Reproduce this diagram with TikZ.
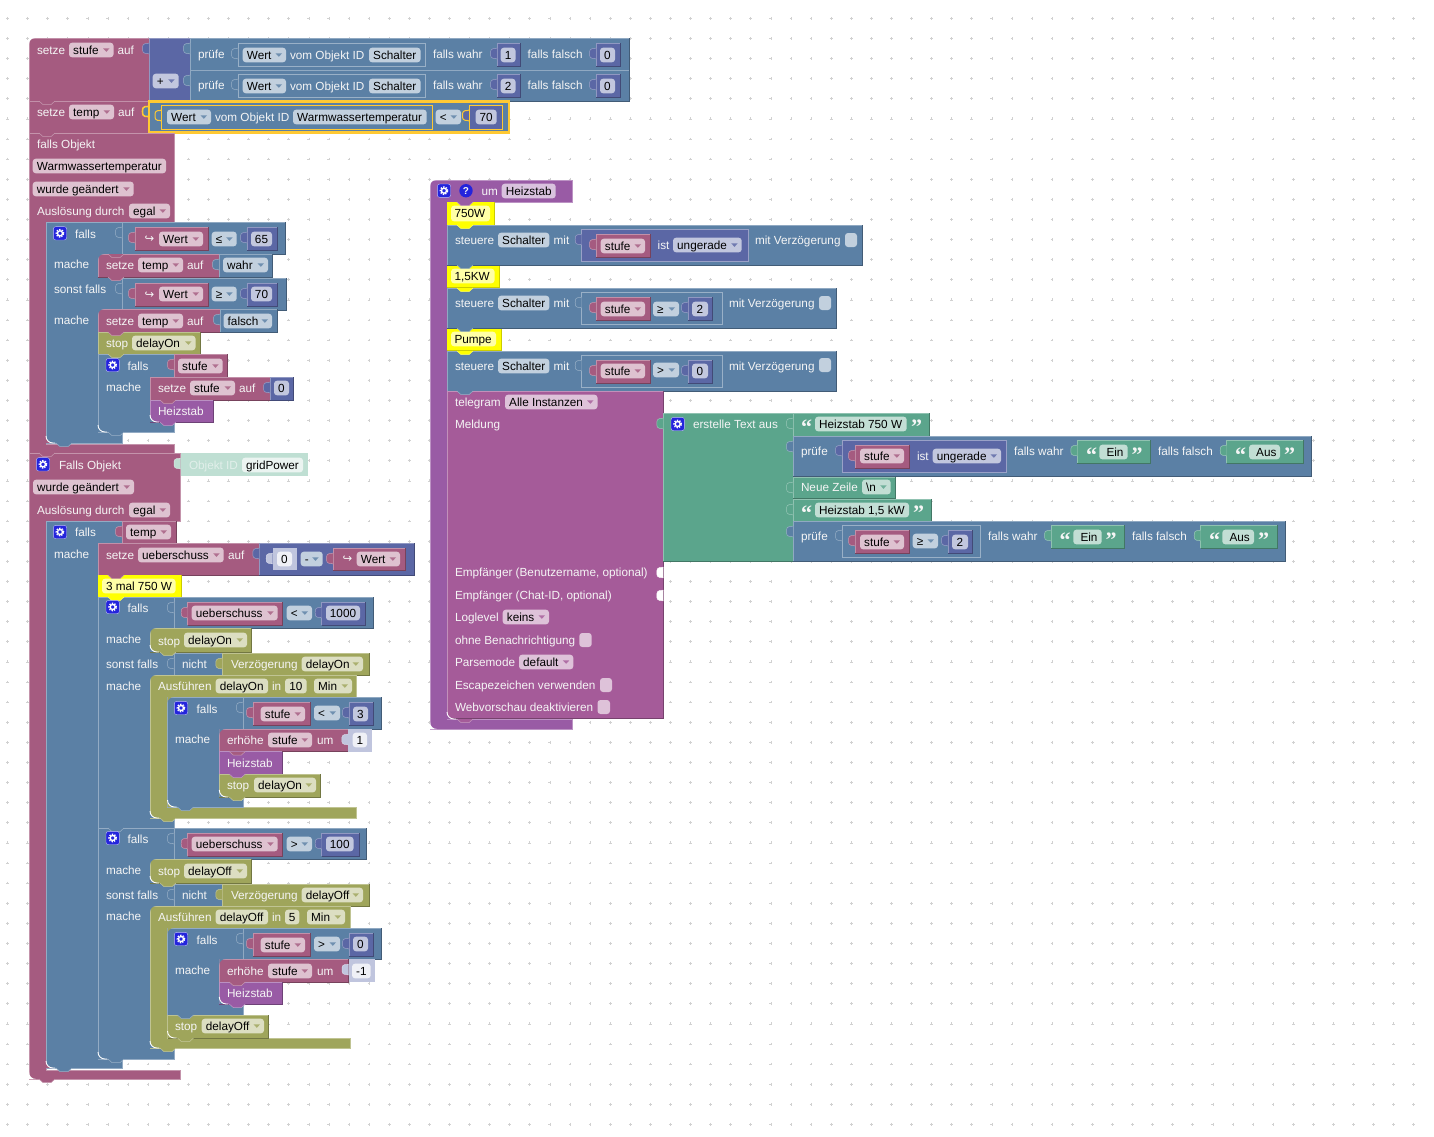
\documentclass[tikz,border=0pt]{standalone}
\usepackage{fontspec}
\setmainfont{Liberation Sans}
\newfontfamily\djv{DejaVu Sans}
\newfontfamily\qfont{Liberation Serif}
\definecolor{vr}{HTML}{A55B80}
\definecolor{lg}{HTML}{5B80A5}
\definecolor{mt}{HTML}{5B67A5}
\definecolor{tx}{HTML}{5BA58C}
\definecolor{fn}{HTML}{995BA5}
\definecolor{tg}{HTML}{A55B99}
\definecolor{ol}{HTML}{9FA55B}
\definecolor{note}{HTML}{FFFF00}
\definecolor{sel}{HTML}{FFC933}
\definecolor{gear}{HTML}{2424DC}
\definecolor{mtS}{HTML}{C0C5DE}
\definecolor{txS}{HTML}{BFDFD3}
\colorlet{vrL}{vr!37!white}
\colorlet{lgL}{lg!37!white}
\colorlet{mtL}{mt!37!white}
\colorlet{txL}{tx!37!white}
\colorlet{fnL}{fn!37!white}
\colorlet{tgL}{tg!37!white}
\colorlet{olL}{ol!37!white}
\colorlet{noteL}{note!35!white}
\newcounter{tn}
% text node with a running name
\newcommand\Tx[3]{\stepcounter{tn}\node[#1] (t\arabic{tn}) at (#2) {#3};}
% plain block: light top and left edge, dark bottom and right edge
\newcommand\Bk[5]{\fill[#1] (#2,#3) rectangle (#4,#5);
  \draw[#1!68!white,line width=.6pt] (#2,#5)--(#2,#3)--(#4,#3);
  \draw[#1!72!black,line width=.6pt] (#2,#5)--(#4,#5)--(#4,#3);}
% inset block of the parent's colour, lighter edge all round
\newcommand\Bi[5]{\fill[#1] (#2,#3) rectangle (#4,#5);
  \draw[#1!62!white,line width=.7pt] (#2,#3) rectangle (#4,#5);}
% puzzle tab on a block's left side
\newcommand\TabPath{(0,5) .. controls (-2,7) and (-6.5,3) .. (-6.5,10.5) .. controls (-6.5,18) and (-2,14) .. (0,16)}
\newcommand\Tb[3]{\begin{scope}[shift={(#2,#3)}]
  \fill[#1] \TabPath -- cycle;
  \draw[#1!62!white,line width=.5pt] \TabPath;
  \end{scope}}
% tab of a selected block: highlighted edge
\newcommand\Ts[3]{\begin{scope}[shift={(#2,#3)}]
  \fill[#1] \TabPath -- cycle;
  \draw[sel,line width=#1pt] \TabPath;
  \end{scope}}
\newcommand\TS[4]{\begin{scope}[shift={(#3,#4)}]
  \fill[#1] \TabPath -- cycle;
  \draw[sel,line width=#2pt] \TabPath;
  \end{scope}}
% block with a tab
\newcommand\Bt[5]{\Bk{#1}{#2}{#3}{#4}{#5}\Tb{#1}{#2}{#3}}
% block outline built from a point list: C shapes
\newcommand\Sh[2]{\fill[#1] #2 -- cycle; \draw[#1!66!white,line width=.6pt] #2 -- cycle;}
% statement bump below an edge
\newcommand\Nt[3]{\fill[#1] (#2+10,#3)--(#2+14,#3+3.6)--(#2+22,#3+3.6)--(#2+26,#3)--cycle;
  \draw[#1!62!white,line width=.5pt] (#2+10,#3)--(#2+14,#3+3.6)--(#2+22,#3+3.6)--(#2+26,#3);}
% corner cut-outs, painted in the colour behind
\newcommand\CTL[3]{\fill[#1] (#2,#3)--(#2+6,#3) .. controls (#2+2.7,#3) and (#2,#3+2.7) .. (#2,#3+6)--cycle;}
\newcommand\CBL[3]{\fill[#1] (#2,#3)--(#2+7,#3) .. controls (#2+3,#3) and (#2,#3-3) .. (#2,#3-7)--cycle;
  \draw[white,line width=.9pt] (#2+9,#3) -- (#2+7,#3) .. controls (#2+3,#3) and (#2,#3-3) .. (#2,#3-7);}
\newcommand\CBO[2]{\fill[white] (#1,#2)--(#1+7,#2) .. controls (#1+3,#2) and (#1,#2-3) .. (#1,#2-7)--cycle;}
% white label, field, field with menu arrow, centred field
\newcommand\Lb[3]{\Tx{lb}{#1,#2+4}{#3}}
\newcommand\Fd[5]{\fill[#1L,rounded corners=3pt] (#2,#4-7.3) rectangle (#3,#4+7.3);
  \Tx{fd}{#2+4.2,#4+4}{#5}}
\newcommand\Dd[5]{\Fd{#1}{#2}{#3}{#4}{#5}
  \fill[#1!80!#1L] (#3-10.5,#4-1.6)--(#3-4,#4-1.6)--(#3-7.2,#4+1.8)--cycle;}
\newcommand\Fc[5]{\fill[#1,rounded corners=3pt] (#2,#4-7.3) rectangle (#3,#4+7.3);
  \Tx{fd,anchor=base}{{(#2+#3)/2},#4+4}{#5}}
% small check box
\newcommand\Cb[4]{\fill[#1L,rounded corners=3pt] (#2,#4-7) rectangle (#3,#4+7);}
% gear button, help button, return arrow, quotes
\newcommand\Gr[2]{\fill[gear,rounded corners=2.5pt] (#1-6.7,#2-6.7) rectangle (#1+6.7,#2+6.7);
  \draw[white!70!gear,line width=.4pt,rounded corners=2.5pt] (#1-6.7,#2-6.7) rectangle (#1+6.7,#2+6.7);
  \draw[white,line width=1.3pt] (#1,#2) circle (2.5pt);
  \draw[white,line width=1.6pt,dash pattern=on 1.3pt off 1.25pt] (#1,#2) circle (3.6pt);}
\newcommand\Hp[2]{\fill[gear] (#1,#2) circle (6.7pt);
  \Tx{lb,anchor=base,font=\fontsize{10}{12}\selectfont\bfseries}{#1,#2+3.6}{?}}
\newcommand\Ri[2]{\Tx{lb,font=\djv\fontsize{11.5}{12}\selectfont}{#1-.5,#2+4}{↪}}
\newcommand\QO[2]{\Tx{lb,font=\qfont\bfseries\fontsize{22}{22}\selectfont}{#1,#2+10}{“}}
\newcommand\QC[2]{\Tx{lb,font=\qfont\bfseries\fontsize{22}{22}\selectfont}{#1,#2+10}{”}}
\tikzset{
  every node/.style={inner sep=0pt,outer sep=0pt,font=\fontsize{11.75}{14}\selectfont},
  lb/.style={anchor=base west,text=white!96!black},
  fd/.style={anchor=base west,text=black},
}
\begin{document}
\begin{tikzpicture}[x=1pt,y=-1pt]
\useasboundingbox (0,0) rectangle (1434,1136);
\fill[white] (0,0) rectangle (1434,1136);
% workspace dots
\foreach \i in {0,...,70}{\foreach \j in {0,...,55}{
  \pgfmathsetmacro\gx{7.4+20.09*\i}\pgfmathsetmacro\gy{18.3+20.11*\j}
  \draw[black!18,line width=.5pt] (\gx-1.4,\gy)--(\gx+1.4,\gy) (\gx,\gy-1.4)--(\gx,\gy+1.4);}}

% ---- set stufe ----
\Bk{vr}{29}{38}{149}{101}
\Lb{37}{50}{setze}\Dd{vr}{69}{113.5}{50}{stufe}\Lb{117.5}{50}{auf}
\Bt{mt}{149}{38}{190}{101}
\Dd{mt}{152.7}{178.7}{81}{+}
\Bt{lg}{190}{38}{629}{70}\Bt{lg}{190}{70}{629}{101}
\foreach \rr/\nn in {0/1,31/2}{
  \Lb{198}{54+\rr}{prüfe}
  \Bi{lg}{238}{43+\rr}{425}{66.5+\rr}\Tb{lg}{238}{43+\rr}
  \Dd{lg}{242.7}{286}{55+\rr}{Wert}\Lb{290}{55+\rr}{vom Objekt ID}\Fd{lg}{369}{420.5}{55+\rr}{Schalter}
  \Lb{433}{54+\rr}{falls wahr}
  \Bt{mt}{497}{43+\rr}{520}{66.5+\rr}\Fc{mtL}{500.7}{515.5}{55+\rr}{\nn}
  \Lb{527.7}{54+\rr}{falls falsch}
  \Bt{mt}{596}{43+\rr}{620}{66.5+\rr}\Fc{mtL}{600}{615}{55+\rr}{0}}
% ---- set temp ----
\Bk{vr}{29}{101}{149}{133}
\Lb{37}{112}{setze}\Dd{vr}{69}{114}{112}{temp}\Lb{118}{112}{auf}
\Bk{lg}{149}{102}{509}{132}\TS{lg}{1.6}{149}{101}
\Bk{lg}{161.5}{105}{432.5}{129}\TS{lg}{1}{161.5}{105}
\Dd{lg}{167}{211}{117}{Wert}\Lb{215}{117}{vom Objekt ID}\Fd{lg}{293}{426.7}{117}{Warmwassertemperatur}
\Dd{lg}{435.7}{461}{117}{<}
\Bk{mt}{469}{105}{502}{129}\TS{mt}{1}{469}{105}\Fc{mtL}{475.7}{496.7}{117}{70}
\draw[sel,line width=1pt] (161.5,105) rectangle (432.5,129) (469,105) rectangle (502,129);
\draw[sel,line width=2.2pt] (149,101.5) rectangle (509,132.5);
\Nt{vr}{29}{101}

% ---- first event ----
\Sh{vr}{(29,133)--(174,133)--(174,222)--(46,222)--(46,444)--(174,444)--(174,453)--(29,453)}
\Nt{vr}{29}{133}
\Lb{37}{144}{falls Objekt}
\Fd{vr}{32.7}{166}{166}{Warmwassertemperatur}
\Dd{vr}{32.7}{133.7}{189}{wurde geändert}
\Lb{37}{211}{Auslösung durch}\Dd{vr}{129}{170}{211}{egal}
% outer if
\Sh{lg}{(46,222)--(122,222)--(122,254)--(98,254)--(98,277)--(122,277)--(122,309)--(98,309)--(98,432)--(122,432)--(122,443)--(46,443)}
\Gr{60}{233.3}\Lb{75}{234}{falls}
\Bt{lg}{122}{222}{285.5}{254}
\Bt{vr}{135}{227}{208}{250}\Ri{145}{238}\Dd{vr}{159}{203}{239}{Wert}
\Dd{lg}{211.7}{236.7}{239}{≤}
\Bt{mt}{247}{227}{277}{250}\Fc{mtL}{251}{272}{239}{65}
\Lb{54}{264}{mache}
\Bk{vr}{98}{254}{219}{277}\Lb{106}{265}{setze}\Dd{vr}{138}{183}{265}{temp}\Lb{187}{265}{auf}
\Bt{lg}{219}{254}{272}{277}\Dd{lg}{223}{268}{265}{wahr}
\Lb{54}{289}{sonst falls}
\Bt{lg}{122}{278}{286}{310}
\Bt{vr}{135}{283}{208}{306}\Ri{145}{294}\Dd{vr}{159}{203}{294}{Wert}
\Dd{lg}{211.7}{236.7}{294}{≥}
\Bt{mt}{247}{283}{277}{306}\Fc{mtL}{251}{272}{294}{70}
\Lb{54}{320}{mache}
\Bk{vr}{98}{309}{220}{332}\Lb{106}{321}{setze}\Dd{vr}{138}{183}{321}{temp}\Lb{187}{321}{auf}
\Bt{lg}{220}{309}{277}{332}\Dd{lg}{223.5}{272}{321}{falsch}
\Bk{ol}{98}{332}{200}{354}\Lb{106}{343}{stop}\Dd{ol}{132}{195.5}{343}{delayOn}
% nested if
\Sh{lg}{(98,354)--(174,354)--(174,377)--(150,377)--(150,422)--(174,422)--(174,432)--(98,432)}
\Gr{112.7}{365}\Lb{127.5}{366}{falls}
\Bt{vr}{174}{354}{227}{377}\Dd{vr}{178}{222.7}{366}{stufe}
\Lb{106}{387}{mache}
\Bk{vr}{150}{377}{270}{400}\Lb{158}{388}{setze}\Dd{vr}{190}{235}{388}{stufe}\Lb{239}{388}{auf}
\Bt{mt}{270}{377}{293.5}{400}\Fc{mtL}{274}{289}{388}{0}
\Bk{fn}{150}{400}{213}{422}\Lb{158}{411}{Heizstab}
\CTL{lg}{98}{254}\CBL{lg}{150}{422}\CTL{lg}{98}{309}\CBL{lg}{98}{432}\CBL{vr}{46}{443}
\Nt{vr}{98}{254}\Nt{vr}{98}{277}\Nt{vr}{98}{332}\Nt{ol}{98}{354}\Nt{vr}{150}{400}\Nt{fn}{150}{422}
\Nt{lg}{98}{432}\Nt{lg}{46}{443}\Nt{vr}{29}{453}

% ---- second event ----
\Sh{vr}{(29,453)--(180.5,453)--(180.5,521)--(46,521)--(46,1070)--(180.5,1070)--(180.5,1079)--(29,1079)}
\Nt{vr}{29}{453}
\Gr{43}{464.3}\Lb{59}{465}{Falls Objekt}
\fill[txS] (180.5,453) rectangle (308,476);\Tb{txS}{180.5}{453}
\Tx{lb,text=white!82!tx}{189,469}{Objekt ID}
\fill[white!88!tx,rounded corners=3pt] (242,457.7) rectangle (303,472.3);\Tx{fd}{246,469}{gridPower}
\Dd{vr}{33}{134}{487}{wurde geändert}
\Lb{37}{510}{Auslösung durch}\Dd{vr}{129}{170}{510}{egal}
\Sh{lg}{(46,521)--(122,521)--(122,543)--(98,543)--(98,1059)--(122,1059)--(122,1068)--(46,1068)}
\Gr{60}{532}\Lb{75}{532}{falls}
\Bt{vr}{122}{521}{176}{543}\Dd{vr}{126}{171}{532}{temp}
\Lb{54}{554}{mache}
\Bk{vr}{98}{543}{259.3}{575}\Lb{106}{555}{setze}\Dd{vr}{138}{223.7}{555}{ueberschuss}\Lb{228}{555}{auf}
\Bt{mt}{259.3}{543}{414}{575}
\fill[mtS] (272.7,548) rectangle (296.7,570);\Tb{mtS}{272.7}{548}\Fc{white!90!mt}{277}{292}{559}{0}
\Dd{lg}{300.7}{322.7}{559}{-}
\Bt{vr}{333}{548}{405}{570}\Ri{343}{558}\Dd{vr}{356.7}{400}{559}{Wert}
% comment
\fill[note] (98,575) rectangle (181,597);\draw[note!80!black,line width=.5pt] (98,597)--(181,597)--(181,575);
\fill[noteL,rounded corners=3pt] (102,578.7) rectangle (175.5,593.3);\Tx{fd}{106,590}{3 mal 750 W}
\Nt{vr}{98}{575}

% first inner if
\Sh{lg}{(98,597)--(174,597)--(174,628)--(150,628)--(150,652)--(174,652)--(174,675)--(150,675)--(150,818)--(174,818)--(174,828)--(98,828)}
\Nt{note}{98}{597}
\Gr{112.7}{607}\Lb{127.5}{608}{falls}
\Bt{lg}{174}{597}{373.5}{628}
\Bt{vr}{187.7}{602}{282.7}{625}\Dd{vr}{191.7}{277.7}{613}{ueberschuss}
\Dd{lg}{286.7}{312}{613}{<}
\Bt{mt}{321.7}{602}{365}{625}\Fc{mtL}{326}{360}{613}{1000}
\Lb{106}{639}{mache}
\Bk{ol}{150}{628}{251.7}{652}\Lb{158}{641}{stop}\Dd{ol}{184}{247}{640}{delayOn}
\Lb{106}{664}{sonst falls}
\Bt{lg}{174}{653}{222.3}{675}\Lb{182}{664}{nicht}
\Bt{ol}{222.3}{653}{369}{675}\Lb{231}{664}{Verzögerung}\Dd{ol}{301.7}{363}{664}{delayOn}
\Lb{106}{686}{mache}
\Sh{ol}{(150,675)--(356.7,675)--(356.7,697)--(167.5,697)--(167.5,807)--(356.7,807)--(356.7,818)--(150,818)}
\Lb{158}{686}{Ausführen}\Fd{ol}{215.7}{268}{686}{delayOn}\Lb{272}{686}{in}
\Fc{olL}{285}{306.7}{686}{10}\Dd{ol}{314}{352}{686}{Min}
\Sh{lg}{(167.5,697)--(243,697)--(243,729)--(219.3,729)--(219.3,797)--(243,797)--(243,807)--(167.5,807)}
\Gr{181}{708}\Lb{196.7}{709}{falls}
\Bt{lg}{243}{697}{381.7}{729}
\Bt{vr}{253}{702}{310}{725}\Dd{vr}{260.7}{305}{714}{stufe}
\Dd{lg}{314}{340}{713}{<}
\Bt{mt}{349}{702}{373}{725}\Fc{mtL}{353}{368}{714}{3}
\Lb{175}{739}{mache}
\Bk{vr}{219.3}{729}{348.3}{751.5}\Lb{227}{740}{erhöhe}\Dd{vr}{268}{312}{740}{stufe}\Lb{317}{740}{um}
\fill[mtS] (348.3,729) rectangle (371.7,751.5);\Tb{mtS}{348.3}{729}\Fc{white!90!mt}{352.7}{367}{740}{1}
\Bk{fn}{219.3}{751.5}{282}{774}\Lb{227}{763}{Heizstab}
\Bk{ol}{219.3}{774}{320.7}{797}\Lb{227}{785}{stop}\Dd{ol}{254}{316}{785}{delayOn}
\CTL{lg}{150}{628}\CBL{lg}{150}{652}\CTL{lg}{150}{675}\CBL{lg}{150}{818}
\CTL{ol}{167.5}{697}\CBL{ol}{167.5}{807}\CTL{lg}{219.3}{729}\CBL{lg}{219.3}{797}
\Nt{ol}{150}{652}\Nt{ol}{150}{818}\Nt{lg}{167.5}{807}\Nt{vr}{219.3}{751.5}\Nt{fn}{219.3}{774}\Nt{ol}{219.3}{797}

% second inner if
\Sh{lg}{(98,828)--(174,828)--(174,859)--(150,859)--(150,883)--(174,883)--(174,906)--(150,906)--(150,1048)--(174,1048)--(174,1059)--(98,1059)}
\Nt{lg}{98}{828}
\Gr{112.7}{838}\Lb{127.5}{839}{falls}
\Bt{lg}{174}{828}{366.7}{859}
\Bt{vr}{187.7}{833}{282.7}{856}\Dd{vr}{191.7}{277.7}{844}{ueberschuss}
\Dd{lg}{286.7}{312}{844}{>}
\Bt{mt}{321.7}{833}{359}{856}\Fc{mtL}{326}{353.5}{844}{100}
\Lb{106}{870}{mache}
\Bk{ol}{150}{859}{251.7}{883}\Lb{158}{871}{stop}\Dd{ol}{184}{247}{871}{delayOff}
\Lb{106}{895}{sonst falls}
\Bt{lg}{174}{884}{222.3}{906}\Lb{182}{895}{nicht}
\Bt{ol}{222.3}{884}{369}{906}\Lb{231}{895}{Verzögerung}\Dd{ol}{301.7}{363}{895}{delayOff}
\Lb{106}{916}{mache}
\Sh{ol}{(150,906)--(350,906)--(350,928)--(167.5,928)--(167.5,1038)--(350,1038)--(350,1048)--(150,1048)}
\Lb{158}{917}{Ausführen}\Fd{ol}{215.7}{268}{917}{delayOff}\Lb{272}{917}{in}
\Fc{olL}{285}{299.3}{917}{5}\Dd{ol}{307}{345}{917}{Min}
\Sh{lg}{(167.5,928)--(243,928)--(243,959)--(219.3,959)--(219.3,1004)--(243,1004)--(243,1015)--(167.5,1015)}
\Gr{181}{939}\Lb{196.7}{940}{falls}
\Bt{lg}{243}{928}{381.7}{959}
\Bt{vr}{253}{933}{310}{956}\Dd{vr}{260.7}{305}{945}{stufe}
\Dd{lg}{314}{340}{944}{>}
\Bt{mt}{349}{933}{373}{956}\Fc{mtL}{353}{368}{944}{0}
\Lb{175}{970}{mache}
\Bk{vr}{219.3}{959}{348.5}{982}\Lb{227}{971}{erhöhe}\Dd{vr}{268}{312}{971}{stufe}\Lb{317}{971}{um}
\fill[mtS] (348.5,959) rectangle (375,982);\Tb{mtS}{348.5}{959}\Fc{white!90!mt}{352}{370.7}{971}{-1}
\Bk{fn}{219.3}{982}{282}{1004}\Lb{227}{993}{Heizstab}
\Bk{ol}{167.5}{1015}{268.7}{1038}\Lb{175}{1026}{stop}\Dd{ol}{201.7}{264}{1026}{delayOff}
\CTL{lg}{150}{859}\CBL{lg}{150}{883}\CTL{lg}{150}{906}\CBL{lg}{98}{1059}\CBL{lg}{150}{1048}
\CTL{ol}{167.5}{928}\CBL{ol}{167.5}{1038}\CTL{lg}{219.3}{959}\CBL{lg}{219.3}{1004}
\CBL{vr}{46}{1068}
\Nt{ol}{150}{883}\Nt{ol}{150}{1048}\Nt{lg}{167.5}{1015}\Nt{vr}{219.3}{982}\Nt{fn}{219.3}{1004}\Nt{ol}{167.5}{1038}
\Nt{lg}{98}{1059}\Nt{lg}{46}{1068}\Nt{vr}{29}{1079}
% top-level corners
\CTL{white}{29}{38}\CBO{29}{1079}

% ---- function Heizstab ----
\Sh{fn}{(430,180)--(572,180)--(572,202)--(447,202)--(447,719)--(572,719)--(572,729)--(430,729)}
\CTL{white}{430}{180}\CBO{430}{729}
\Gr{444}{190.7}\Hp{466}{190.7}\Lb{481.7}{191}{um}\Fd{fn}{501.7}{555.7}{191}{Heizstab}
% comments and switches
\foreach \ya/\yb/\xb/\fx/\ww in {202/225/494/490/750W,265/287/499/494.5/{1,5KW},328/350/501/496/Pumpe}{
  \fill[note] (447,\ya) rectangle (\xb,\yb);
  \draw[note!80!black,line width=.5pt] (447,\yb)--(\xb,\yb)--(\xb,\ya);
  \fill[noteL,rounded corners=3pt] (451,\ya+3.7) rectangle (\fx,\yb-3.7);
  \Tx{fd}{454.5,{(\ya+\yb)/2+4}}{\ww}}
\Bk{lg}{447}{225}{862}{265}\Lb{455}{240}{steuere}\Fd{lg}{498}{549.3}{240}{Schalter}\Lb{553.7}{240}{mit}
\Bi{mt}{581.7}{229}{748}{261}\Tb{mt}{581.7}{229}
\Bt{vr}{596}{234}{650}{257.5}\Dd{vr}{600.7}{645}{246}{stufe}\Lb{657.7}{245}{ist}\Dd{mt}{673}{741.7}{245}{ungerade}
\Lb{755}{240}{mit Verzögerung}\Cb{lg}{845}{857}{240}
\Bk{lg}{447}{288}{836}{328}\Lb{455}{303}{steuere}\Fd{lg}{498}{549.3}{303}{Schalter}\Lb{553.7}{303}{mit}
\Bi{lg}{581.7}{292}{722}{324}\Tb{lg}{581.7}{292}
\Bt{vr}{596}{297}{650}{320}\Dd{vr}{600.7}{645}{309}{stufe}\Dd{lg}{653}{679}{309}{≥}
\Bt{mt}{688}{297}{712.3}{320}\Fc{mtL}{692}{708}{309}{2}
\Lb{729}{303}{mit Verzögerung}\Cb{lg}{819}{831}{303}
\Bk{lg}{447}{351}{836}{391}\Lb{455}{366}{steuere}\Fd{lg}{498}{549.3}{366}{Schalter}\Lb{553.7}{366}{mit}
\Bi{lg}{581.7}{355}{722}{387}\Tb{lg}{581.7}{355}
\Bt{vr}{596}{360}{650}{383}\Dd{vr}{600.7}{645}{371}{stufe}\Dd{lg}{653}{679}{370}{>}
\Bt{mt}{688}{360}{712.3}{383}\Fc{mtL}{692}{708}{371}{0}
\Lb{729}{366}{mit Verzögerung}\Cb{lg}{819}{831}{365}
% telegram
\Bk{tg}{447}{391}{663.3}{718.5}
\Lb{455}{402}{telegram}\Dd{tg}{505}{597.5}{402}{Alle Instanzen}
\Lb{455}{424}{Meldung}
\Lb{455}{572}{Empfänger (Benutzername, optional)}
\Lb{455}{595}{Empfänger (Chat-ID, optional)}
\Lb{455}{617}{Loglevel}\Dd{tg}{502.7}{549}{617}{keins}
\Lb{455}{640}{ohne Benachrichtigung}\Cb{tg}{579.3}{591.7}{640}
\Lb{455}{662}{Parsemode}\Dd{tg}{519}{573.3}{662}{default}
\Lb{455}{685}{Escapezeichen verwenden}\Cb{tg}{600}{612}{685}
\Lb{455}{707}{Webvorschau deaktivieren}\Cb{tg}{597.5}{610}{707}
\Tb{white}{663.3}{562}\Tb{white}{663.3}{585}
\Nt{fn}{447}{202}\Nt{note}{447}{225}\Nt{lg}{447}{265}\Nt{note}{447}{288}\Nt{lg}{447}{328}\Nt{note}{447}{351}\Nt{lg}{447}{391}
\CBL{fn}{447}{719}\Nt{tg}{447}{719}
% text join
\Bt{tx}{663.3}{413}{793}{561}
\Gr{677.7}{424}\Lb{693}{424}{erstelle Text aus}
\Bt{tx}{793}{413}{929}{436}\QO{801}{424}\Fd{tx}{815}{906.7}{424}{Heizstab 750 W}\QC{911}{424}
\Bt{lg}{793}{436}{1311.7}{476}\Lb{801}{451}{prüfe}
\Bi{mt}{842}{440}{1006.7}{472}\Tb{mt}{842}{440}
\Bt{vr}{855}{445}{909}{468}\Dd{vr}{860}{904}{456}{stufe}\Lb{917}{456}{ist}\Dd{mt}{932.7}{1001}{456}{ungerade}
\Lb{1014}{451}{falls wahr}
\Bt{tx}{1077.3}{440}{1150.7}{463.3}\QO{1086}{452}\Fd{tx}{1099.3}{1127.7}{452}{\hspace{3pt}Ein}\QC{1131.7}{452}
\Lb{1158}{451}{falls falsch}
\Bt{tx}{1226.7}{440}{1303.3}{463.3}\QO{1235}{452}\Fd{tx}{1249}{1280}{452}{\hspace{3pt}Aus}\QC{1284}{452}
\Bt{tx}{793}{477}{895.7}{498}\Lb{801}{487}{Neue Zeile}\Dd{tx}{862}{890.7}{487}{\textbackslash n}
\Bt{tx}{793}{499}{931.7}{521}\QO{801}{510}\Fd{tx}{815}{909}{510}{Heizstab 1,5 kW}\QC{913}{510}
\Bt{lg}{793}{521}{1285.7}{561}\Lb{801}{536}{prüfe}
\Bi{lg}{842}{525}{980}{557}\Tb{lg}{842}{525}
\Bt{vr}{855}{530}{909}{553}\Dd{vr}{860}{904}{542}{stufe}\Dd{lg}{912.7}{938}{541}{≥}
\Bt{mt}{948}{530}{972}{553}\Fc{mtL}{952}{968}{542}{2}
\Lb{988}{536}{falls wahr}
\Bt{tx}{1051}{525}{1124.3}{548.3}\QO{1059.7}{537}\Fd{tx}{1073.3}{1101.7}{537}{\hspace{3pt}Ein}\QC{1105.7}{537}
\Lb{1132}{536}{falls falsch}
\Bt{tx}{1200.7}{525}{1277.3}{548.3}\QO{1209}{537}\Fd{tx}{1222.3}{1254}{537}{\hspace{3pt}Aus}\QC{1258}{537}
\end{tikzpicture}
\end{document}
